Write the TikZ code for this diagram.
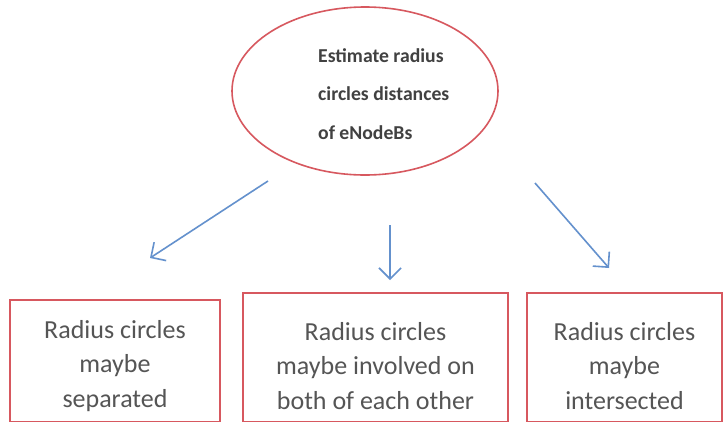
\documentclass[tikz,border=0pt]{standalone}
\usepackage{fontspec}
\setmainfont{Carlito}
\usetikzlibrary{shapes.geometric,arrows.meta}
\definecolor{redline}{RGB}{215,88,95}
\definecolor{bluearrow}{RGB}{100,145,205}
\definecolor{boxtextc}{RGB}{85,85,85}
\definecolor{elltextc}{RGB}{65,65,65}
\tikzset{
  ellnode/.style={draw=redline, line width=1.6pt, ellipse, inner sep=0pt, minimum width=266pt, minimum height=168pt},
  boxnode/.style={draw=redline, line width=1.8pt, rectangle, inner sep=0pt},
  boxtext/.style={align=center, text=boxtextc, font=\fontsize{26}{34.5}\selectfont, inner sep=0pt},
  elltext/.style={align=left, text=elltextc, font=\bfseries\fontsize{19.7}{38.5}\selectfont, inner sep=0pt, anchor=west},
  conn/.style={draw=bluearrow, line width=1.6pt, -{Straight Barb[length=11pt,width=22pt,line width=1.6pt]}}
}
\begin{document}
\begin{tikzpicture}[x=1pt,y=-1pt]
\useasboundingbox[fill=white] (0,0) rectangle (725,421);
\node[ellnode] (e) at (365,91) {};
\node[elltext] (et) at (318,94) {Estimate radius\\circles distances\\of eNodeBs};
\node[boxnode, minimum width=210pt, minimum height=122pt] (b1) at (115,361) {};
\node[boxnode, minimum width=265pt, minimum height=129pt] (b2) at (375.5,357.5) {};
\node[boxnode, minimum width=195pt, minimum height=129pt] (b3) at (624.5,357.5) {};
\node[boxtext] (t1) at (115,366) {Radius circles\\maybe\\separated};
\node[boxtext] (t2) at (375.5,366) {Radius circles\\maybe involved on\\both of each other};
\node[boxtext] (t3) at (624.5,366) {Radius circles\\maybe\\intersected};
\coordinate (a1s) at (268,181);
\coordinate (a1e) at (150,258);
\coordinate (a2s) at (390,225);
\coordinate (a2e) at (390,280);
\coordinate (a3s) at (535,183);
\coordinate (a3e) at (609,268);
\draw[conn] (a1s) -- (a1e);
\draw[conn] (a2s) -- (a2e);
\draw[conn] (a3s) -- (a3e);
\end{tikzpicture}
\end{document}
